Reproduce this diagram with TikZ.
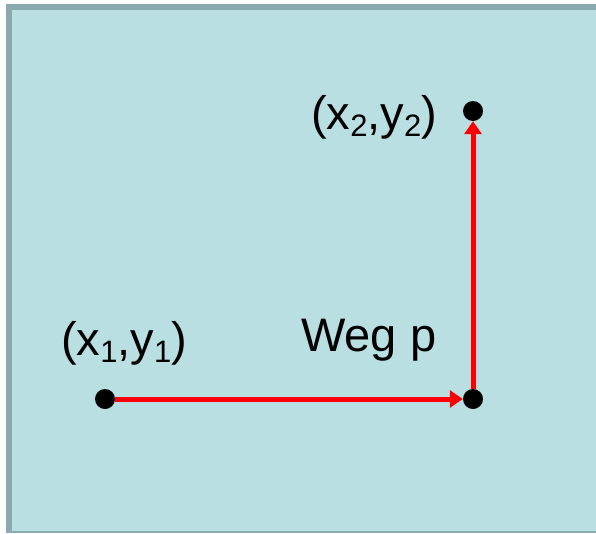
\documentclass[tikz,border=0pt]{standalone}
\usepackage{fontspec}
\setmainfont{Liberation Sans}
\usetikzlibrary{arrows.meta}
\definecolor{boxfill}{RGB}{185,223,227}
\definecolor{boxedge}{RGB}{138,170,174}
\newcommand\subsc[1]{\raisebox{-7pt}{\fontsize{31}{31}\selectfont #1}}
\tikzset{
  dot/.style={circle,fill=black,inner sep=0pt,minimum size=20pt},
  lbl/.style={anchor=base west,inner sep=0pt,font=\fontsize{47}{50}\selectfont},
  path/.style={draw=red,line width=5pt,-{Triangle[length=13pt,width=17pt]}}
}
\begin{document}
\begin{tikzpicture}[x=1pt,y=-1pt]
\useasboundingbox (0,0) rectangle (596,533);
\fill[white] (0,0) rectangle (596,533);
\fill[boxedge] (6,4) rectangle (596,533);
\fill[boxfill] (12,10) rectangle (596,531);
\node[dot] (p1) at (105,399) {};
\node[dot] (c) at (473,399) {};
\node[dot] (p2) at (473,111) {};
\draw[path] (p1) -- (c);
\draw[path] (c) -- (p2);
\node[lbl] (l1) at (61,355) {(x\subsc{1},y\subsc{1})};
\node[lbl] (l2) at (311,129) {(x\subsc{2},y\subsc{2})};
\node[lbl] (l3) at (301,351) {Weg p};
\end{tikzpicture}
\end{document}
